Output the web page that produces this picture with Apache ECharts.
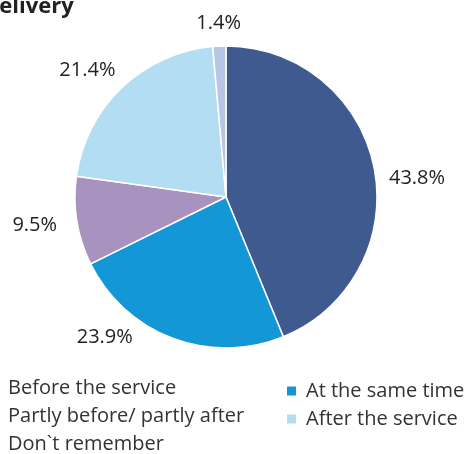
<!DOCTYPE html>
<html><head><meta charset="utf-8">
<script src="https://cdn.jsdelivr.net/npm/echarts@6/dist/echarts.min.js"></script>
<style>html,body{margin:0;padding:0;background:#fff}#c{width:471px;height:454px}</style>
</head><body><div id="c"></div>
<script>
const categories = ["Before the service", "At the same time", "Partly before/ partly after", "After the service", "Don`t remember"];
const values = [43.8, 23.9, 9.5, 21.4, 1.4];
const colors = ["#3f5a8f", "#1497d6", "#a892c0", "#b3ddf3", "#b7c6e6"];
const legendLeft = ["Before the service", "Partly before/ partly after", "Don`t remember"];
const legendRight = ["At the same time", "After the service"];
// label nudges (style only)
const labelNudge = [[2, 12], [-32, -8], [-7, 3], [4, -11], [27, -15]];

const chart = echarts.init(document.getElementById('c'));
const font = "'Open Sans', sans-serif";
const legText = { fontFamily: font, fontSize: 20, color: '#333', lineHeight: 20, padding: [0, 0, 0, 4] };
chart.setOption({
  animation: false,
  color: colors,
  title: { text: "Delivery", left: -17, top: -4, padding: 0, textStyle: { fontFamily: font, fontWeight: 'bold', fontSize: 22, color: '#222' } },
  legend: [
    { data: legendLeft, orient: 'vertical', left: -13, top: 378, height: 100, itemWidth: 11, itemHeight: 11, itemGap: 8, icon: 'rect', padding: 0,
      textStyle: legText },
    { data: legendRight, orient: 'vertical', left: 285, top: 381, height: 100, itemWidth: 11, itemHeight: 11, itemGap: 8, icon: 'rect', padding: 0,
      textStyle: legText }
  ],
  series: [{
    type: 'pie',
    center: [226, 197],
    radius: [0, 151],
    startAngle: 90,
    clockwise: true,
    avoidLabelOverlap: false,
    itemStyle: { borderColor: '#fff', borderWidth: 1.5 },
    label: { show: true, position: 'outside', formatter: p => p.value.toFixed(1) + '%', fontFamily: font, fontSize: 20, color: '#222', distanceToLabelLine: 5 },
    labelLine: { show: false, length: 8, length2: 0 },
    emphasis: { disabled: true },
    data: categories.map((c, i) => ({ name: c, value: values[i], label: { offset: labelNudge[i] } }))
  }]
});
</script></body></html>
